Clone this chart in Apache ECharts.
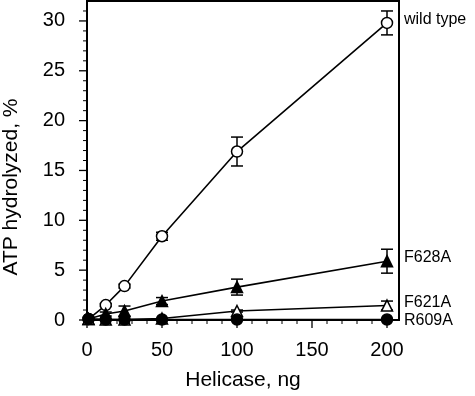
<!DOCTYPE html>
<html>
<head>
<meta charset="utf-8">
<script src="https://cdn.jsdelivr.net/npm/echarts@6/dist/echarts.min.js"></script>
<style>
  html, body { margin: 0; padding: 0; background: #fff; }
  #chart { width: 475px; height: 396px; }
</style>
</head>
<body>
<div id="chart"></div>
<script>
// helicase amounts (ng)
var helicase = [1, 12.5, 25, 50, 100, 200];
// ATP hydrolyzed, % and error (+/-)
var wildType = [0.1, 1.5, 3.4, 8.4, 16.9, 29.8];
var wildTypeErr = [0, 0.15, 0.2, 0.4, 1.45, 1.2];
var f628a = [0.1, 0.6, 0.9, 1.9, 3.3, 5.9];
var f628aErr = [0, 0.2, 0.5, 0.35, 0.8, 1.2];
var f621a = [0.1, 0.05, 0.05, 0.15, 0.9, 1.45];
var f621aErr = [0, 0, 0, 0, 0.1, 0.45];
var r609a = [0.1, 0.05, 0.05, 0.05, 0.05, 0.05];
// tick positions
var xMajor = [0, 50, 100, 150, 200];
var yMajor = [0, 5, 10, 15, 20, 25, 30];
var xMinor = [], yMinor = [];
for (var i = 10; i <= 200; i += 10) if (i % 50) xMinor.push(i);
for (var j = 1; j <= 31; j++) if (j % 5) yMinor.push(j);

var font = 'Liberation Sans';

function pairs(ys) {
    return helicase.map(function (x, i) { return [x, ys[i]]; });
}
function errData(ys, errs) {
    var out = [];
    helicase.forEach(function (x, i) {
        if (errs[i] > 0) out.push([x, ys[i], errs[i]]);
    });
    return out;
}
var allErr = errData(wildType, wildTypeErr)
    .concat(errData(f628a, f628aErr))
    .concat(errData(f621a, f621aErr));

// [x, y, dir (0 = x axis, 1 = y axis), major]
var tickData = []
    .concat(xMajor.map(function (v) { return [v, 0, 0, 1]; }))
    .concat(xMinor.map(function (v) { return [v, 0, 0, 0]; }))
    .concat(yMajor.map(function (v) { return [0, v, 1, 1]; }))
    .concat(yMinor.map(function (v) { return [0, v, 1, 0]; }));

function renderTick(params, api) {
    var p = api.coord([api.value(0), api.value(1)]);
    var len = api.value(3) ? 8 : 4;
    var shape = api.value(2) === 0
        ? { x1: p[0], y1: p[1], x2: p[0], y2: p[1] + len }
        : { x1: p[0], y1: p[1], x2: p[0] - len, y2: p[1] };
    return {
        type: 'line',
        shape: shape,
        style: { stroke: '#000', lineWidth: api.value(3) ? 1.3 : 1 }
    };
}

function renderError(params, api) {
    var x = api.value(0), y = api.value(1), e = api.value(2);
    var top = api.coord([x, y + e]);
    var bot = api.coord([x, y - e]);
    var hw = 6;
    var st = { stroke: '#000', lineWidth: 1.5 };
    return {
        type: 'group',
        children: [
            { type: 'line', shape: { x1: top[0], y1: top[1], x2: bot[0], y2: bot[1] }, style: st },
            { type: 'line', shape: { x1: top[0] - hw, y1: top[1], x2: top[0] + hw, y2: top[1] }, style: st },
            { type: 'line', shape: { x1: bot[0] - hw, y1: bot[1], x2: bot[0] + hw, y2: bot[1] }, style: st }
        ]
    };
}

function lineSeries(name, ys, symbol, fill, off) {
    return {
        name: name,
        type: 'line',
        data: pairs(ys),
        symbol: symbol,
        symbolSize: 11,
        showAllSymbol: true,
        clip: false,
        lineStyle: { color: '#000', width: 1.6 },
        itemStyle: { color: fill, borderColor: '#000', borderWidth: 1.5 },
        endLabel: {
            show: true,
            formatter: name,
            distance: 17,
            offset: off,
            color: '#000',
            fontFamily: font,
            fontSize: 16
        },
        emphasis: { disabled: true },
        z: 3
    };
}

var myChart = echarts.init(document.getElementById('chart'));
var option = {
    animation: false,
    grid: {
        left: 87, right: 76, top: 1, bottom: 75,
        show: true, borderColor: '#000', borderWidth: 2
    },
    xAxis: {
        type: 'value', min: 0, max: 208, interval: 50,
        name: 'Helicase, ng', nameLocation: 'middle', nameGap: 50,
        nameTextStyle: { fontFamily: font, fontSize: 21, color: '#000' },
        axisLine: { show: true, lineStyle: { color: '#000', width: 2 } },
        axisTick: { show: false },
        axisLabel: { showMaxLabel: false, margin: 20, fontFamily: font, fontSize: 20, color: '#000' },
        splitLine: { show: false }
    },
    yAxis: {
        type: 'value', min: 0, max: 32, interval: 5,
        axisLine: { show: true, lineStyle: { color: '#000', width: 2 } },
        axisTick: { show: false },
        axisLabel: { showMaxLabel: false, margin: 22, fontFamily: font, fontSize: 20, color: '#000' },
        splitLine: { show: false }
    },
    graphic: [{
        type: 'text',
        x: 11, y: 187,
        rotation: Math.PI / 2,
        style: {
            text: 'ATP hydrolyzed, %',
            fontFamily: font, fontSize: 21, fill: '#000',
            textAlign: 'center', textVerticalAlign: 'middle'
        }
    }],
    series: [
        {
            type: 'custom',
            renderItem: renderTick,
            data: tickData,
            clip: false,
            z: 1,
            silent: true
        },
        {
            type: 'custom',
            renderItem: renderError,
            data: allErr,
            clip: false,
            z: 2,
            silent: true
        },
        lineSeries('wild type', wildType, 'circle', '#fff', [0, -3]),
        lineSeries('F628A', f628a, 'triangle', '#000', [0, -4]),
        lineSeries('F621A', f621a, 'triangle', '#fff', [0, -3]),
        lineSeries('R609A', r609a, 'circle', '#000', [0, 1])
    ]
};
myChart.setOption(option);
</script>
</body>
</html>
